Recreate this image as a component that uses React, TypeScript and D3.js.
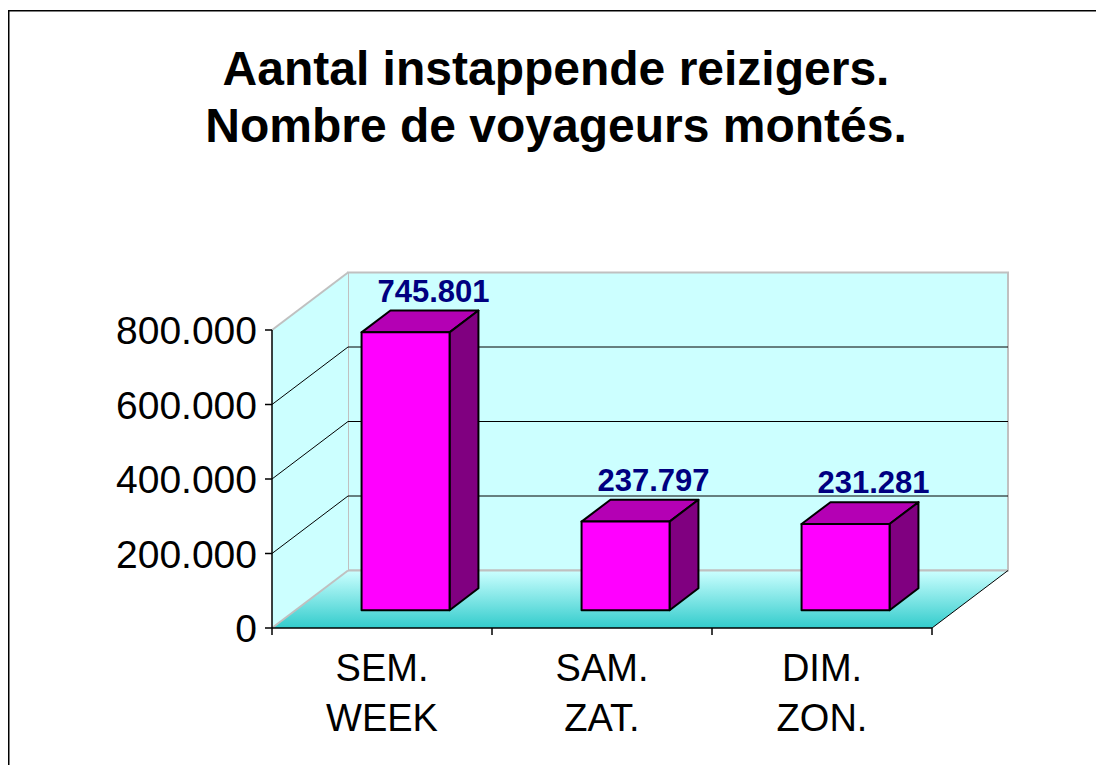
import React from "react";
import * as d3 from "d3";

const categories: string[][] = [["SEM.", "WEEK"], ["SAM.", "ZAT."], ["DIM.", "ZON."]];
const values: number[] = [745801, 237797, 231281];
const valueLabels: string[] = ["745.801", "237.797", "231.281"];
const yTicks: number[] = [0, 200000, 400000, 600000, 800000];
const yTickLabels: string[] = ["0", "200.000", "400.000", "600.000", "800.000"];
const titleLines: string[] = ["Aantal instappende reizigers.", "Nombre de voyageurs montés."];

const W = 1096;
const H = 765;
const FONT = "'Liberation Sans', Arial, Helvetica, sans-serif";

export default function App() {
  const x0 = 272, x1 = 932, yBase = 628, yTop = 330;
  const DX = 76, DY = -57.5; // depth offset
  const fFront = 0.31, fBack = 0.69;

  const idx = categories.map((_, i) => String(i));
  const x = d3.scaleBand<string>().domain(idx).range([x0, x1]).paddingInner(0.6).paddingOuter(0.3);
  const y = d3.scaleLinear().domain([0, 800000]).range([yBase, yTop]);

  const pt = (px: number, py: number) => `${px},${py}`;
  const backY = (v: number) => y(v) + DY;

  const gridCol = "#000000";
  const edgeCol = "#c0c0c0";

  return (
    <svg width={W} height={H} style={{ position: "absolute", left: 0, top: 0, display: "block" }} fontFamily={FONT}>
      <defs>
        <linearGradient id="floorGrad" x1="0" y1="0" x2="0" y2="1">
          <stop offset="0" stopColor="#ccffff" />
          <stop offset="1" stopColor="#33cccc" />
        </linearGradient>
      </defs>
      <rect x={0} y={0} width={W} height={H} fill="#ffffff" />
      <path d={`M8.75,${H} V10.75 H${W}`} fill="none" stroke="#000" strokeWidth={1.5} />

      {/* Title */}
      {titleLines.map((t, i) => (
        <text key={i} x={556} y={85 + i * 57} textAnchor="middle" fontSize={48} fontWeight="bold" fill="#000">
          {t}
        </text>
      ))}

      {/* Back wall */}
      <rect x={x0 + DX} y={backY(800000)} width={x1 - x0} height={y(0) - y(800000)} fill="#ccffff" stroke={edgeCol} strokeWidth={2} />
      {/* Side wall */}
      <polygon
        points={[pt(x0, y(800000)), pt(x0 + DX, backY(800000)), pt(x0 + DX, backY(0)), pt(x0, y(0))].join(" ")}
        fill="#ccffff"
        stroke="none"
      />
      <line x1={x0} y1={y(800000)} x2={x0 + DX} y2={backY(800000)} stroke={edgeCol} strokeWidth={2} />

      {/* Gridlines */}
      {yTicks.filter((v) => v > 0 && v < 800000).map((v) => (
        <g key={v}>
          <line x1={x0 + DX} x2={x1 + DX} y1={backY(v)} y2={backY(v)} stroke={gridCol} strokeWidth={1} />
          <line x1={x0} y1={y(v)} x2={x0 + DX} y2={backY(v)} stroke={gridCol} strokeWidth={1} />
        </g>
      ))}

      {/* Floor */}
      <polygon
        points={[pt(x0, y(0)), pt(x1, y(0)), pt(x1 + DX, backY(0)), pt(x0 + DX, backY(0))].join(" ")}
        fill="url(#floorGrad)"
        stroke="none"
      />
      <line x1={x0 + DX} y1={backY(0)} x2={x1 + DX} y2={backY(0)} stroke={edgeCol} strokeWidth={2} />
      <line x1={x0} y1={y(0)} x2={x0 + DX} y2={backY(0)} stroke={edgeCol} strokeWidth={2} />
      <line x1={x1} y1={y(0)} x2={x1 + DX} y2={backY(0)} stroke="#000" strokeWidth={1} />

      {/* Axes */}
      <line x1={x0} y1={y(800000)} x2={x0} y2={y(0)} stroke="#000" strokeWidth={1.5} />
      <line x1={x0} y1={y(0)} x2={x1} y2={y(0)} stroke="#000" strokeWidth={1.5} />
      {yTicks.map((v, i) => (
        <g key={v}>
          <line x1={x0 - 7} x2={x0} y1={y(v)} y2={y(v)} stroke="#000" strokeWidth={1.5} />
          <text x={257} y={y(v) + 14} textAnchor="end" fontSize={39} fill="#000">
            {yTickLabels[i]}
          </text>
        </g>
      ))}
      {[0, 1, 2, 3].map((k) => {
        const xx = x0 + k * x.step();
        return <line key={k} x1={xx} x2={xx} y1={y(0)} y2={y(0) + 7} stroke="#000" strokeWidth={1.5} />;
      })}
      {categories.map((c, i) => {
        const cx = (x(String(i)) as number) + x.bandwidth() / 2;
        return (
          <text key={i} textAnchor="middle" fontSize={38} fill="#000">
            {c.map((line, j) => (
              <tspan key={j} x={cx} y={681 + j * 50}>
                {line}
              </tspan>
            ))}
          </text>
        );
      })}

      {/* Bars */}
      {values.map((v, i) => {
        const fx = (x(String(i)) as number) + DX * fFront;
        const fw = x.bandwidth();
        const fyTop = y(v) + DY * fFront;
        const fyBot = y(0) + DY * fFront;
        const ddx = DX * (fBack - fFront);
        const ddy = DY * (fBack - fFront);
        return (
          <g key={i} stroke="#000" strokeWidth={2} strokeLinejoin="round">
            <polygon
              points={[pt(fx, fyTop), pt(fx + fw, fyTop), pt(fx + fw + ddx, fyTop + ddy), pt(fx + ddx, fyTop + ddy)].join(" ")}
              fill="#b400b4"
            />
            <polygon
              points={[pt(fx + fw, fyTop), pt(fx + fw + ddx, fyTop + ddy), pt(fx + fw + ddx, fyBot + ddy), pt(fx + fw, fyBot)].join(" ")}
              fill="#800080"
            />
            <rect x={fx} y={fyTop} width={fw} height={fyBot - fyTop} fill="#ff00ff" />
          </g>
        );
      })}

      {/* Value labels */}
      {values.map((v, i) => {
        const fx = (x(String(i)) as number) + DX * fFront;
        const cx = fx + x.bandwidth() / 2 + 28;
        const topBack = y(v) + DY * fBack;
        return (
          <text key={i} x={cx} y={topBack - 9} textAnchor="middle" fontSize={31} fontWeight="bold" fill="#000080">
            {valueLabels[i]}
          </text>
        );
      })}
    </svg>
  );
}
